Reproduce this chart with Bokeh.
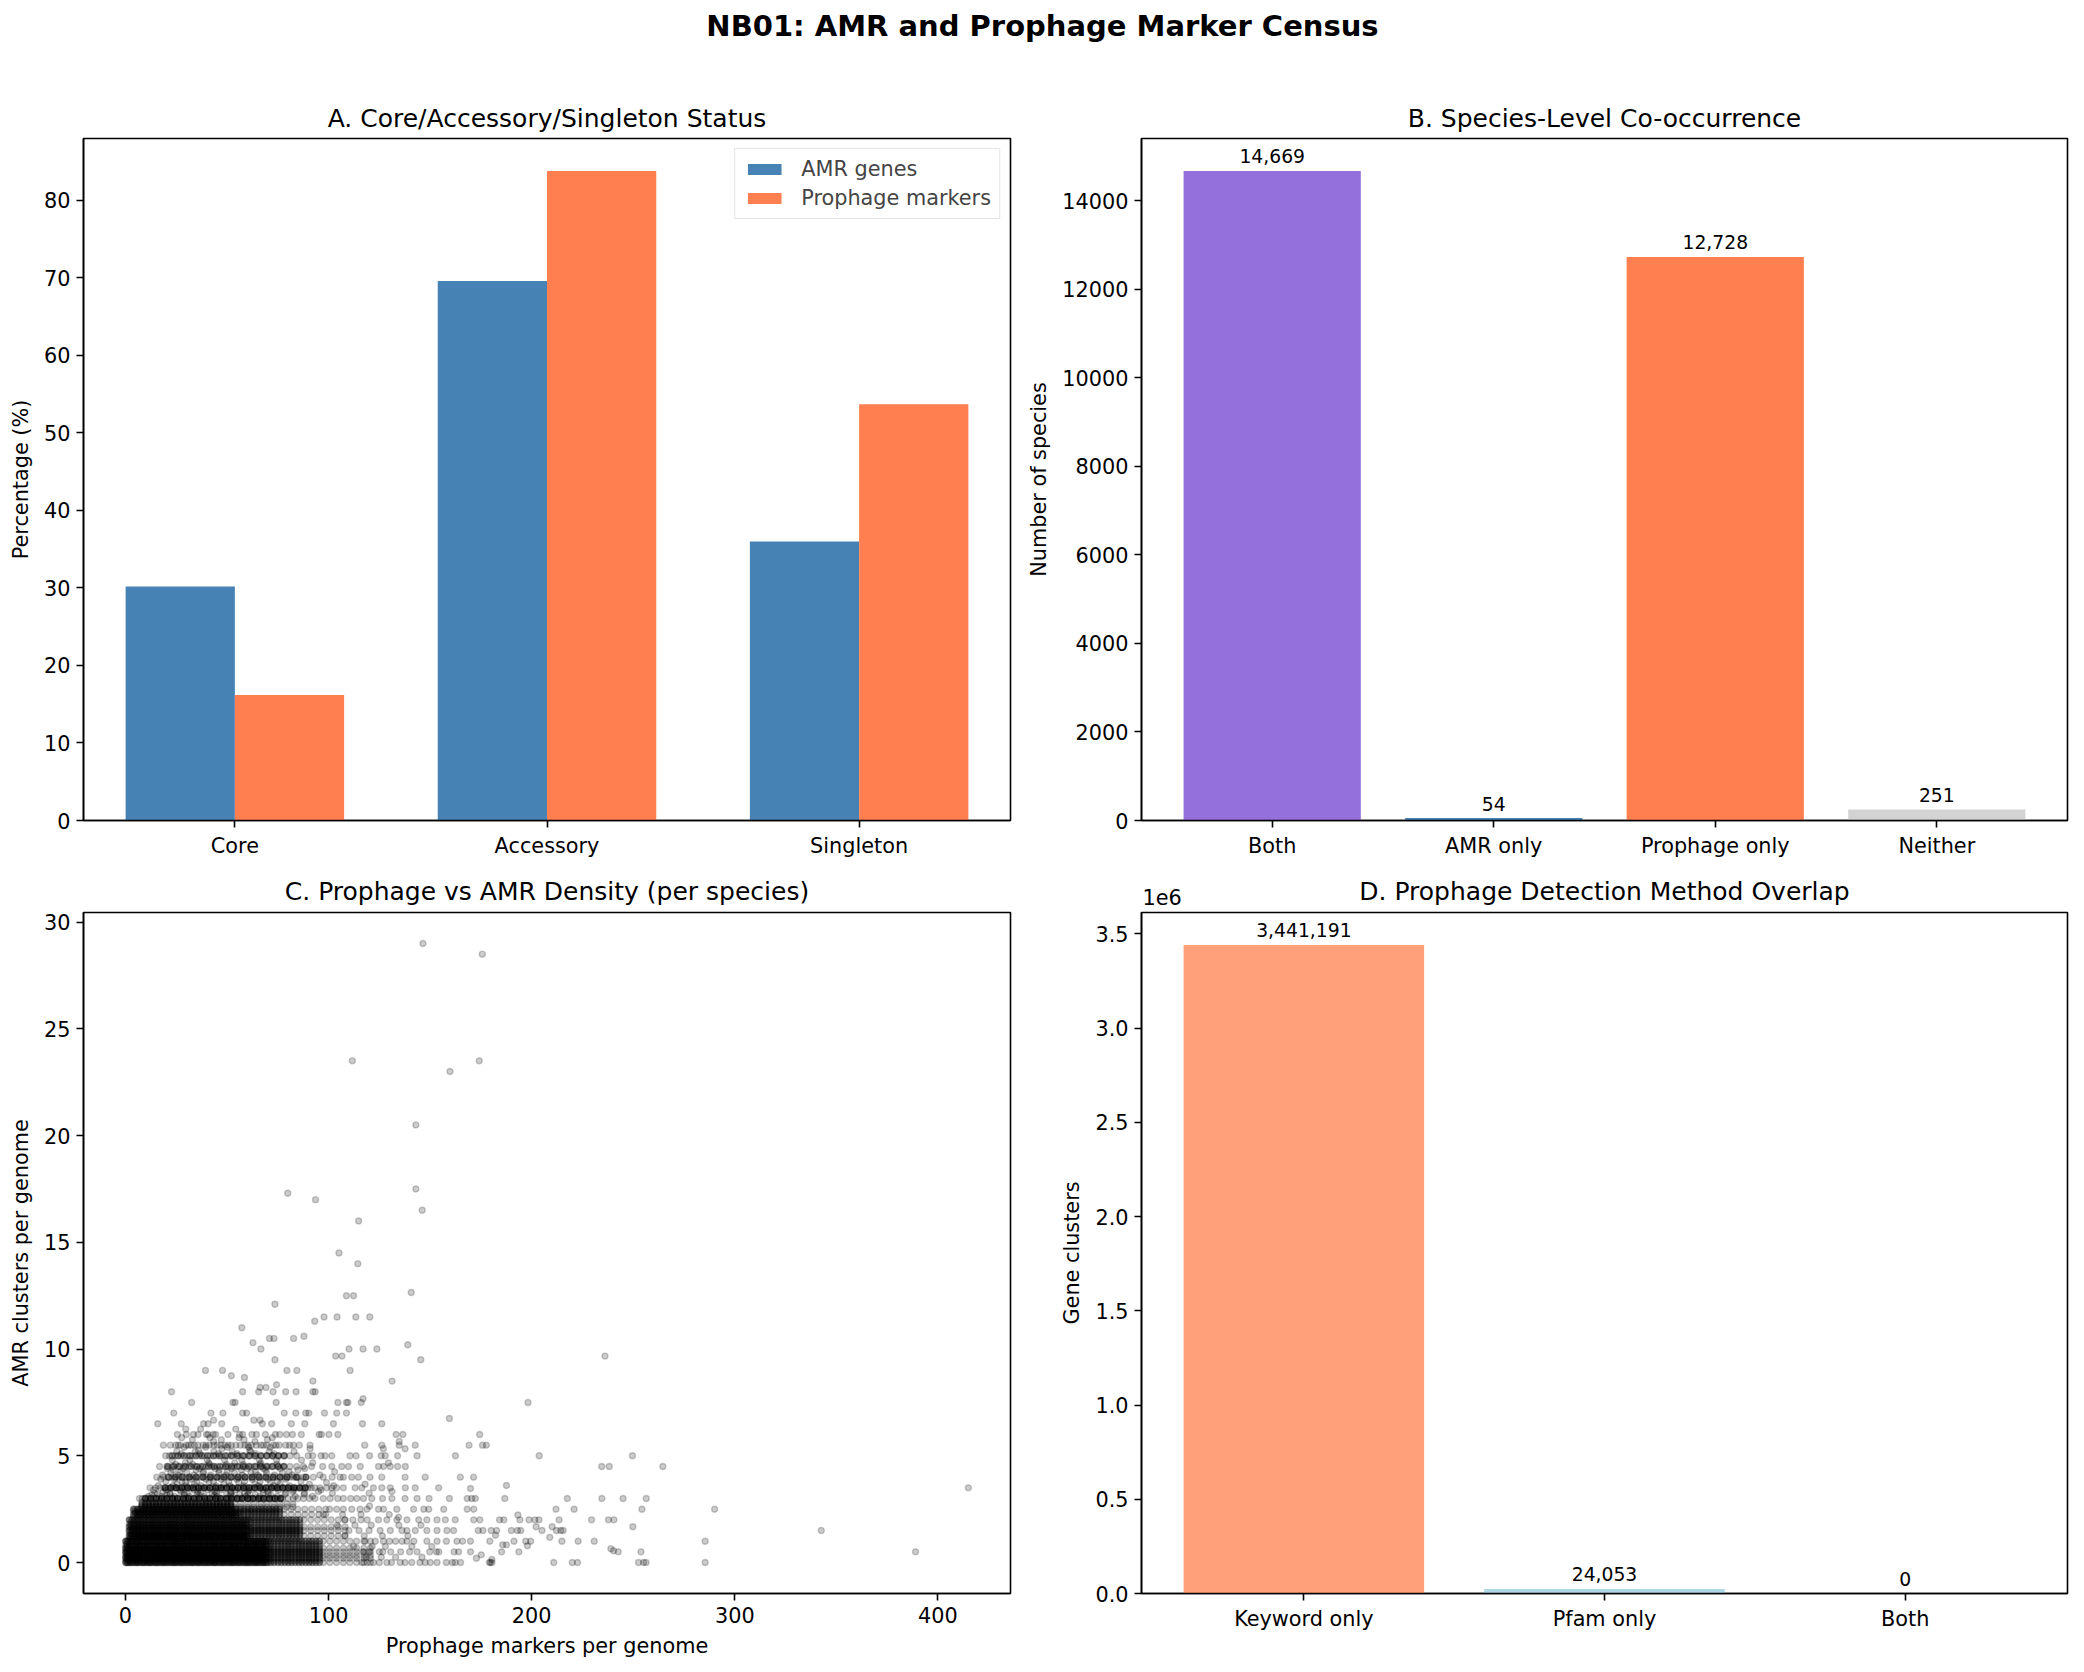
from bokeh.plotting import figure
from bokeh.layouts import column, row
from bokeh.models import Range1d, FixedTicker
from bokeh.embed import file_html
from bokeh.resources import INLINE
from bokeh.core.properties import value

FONT = "DejaVu Sans"

# ---------------- A. core / accessory / singleton status ----------------
status_categories = ["Core", "Accessory", "Singleton"]
amr_pct = [30.2, 69.6, 36.0]
prophage_pct = [16.2, 83.8, 53.7]

# ---------------- B. species-level co-occurrence ----------------
cooc_categories = ["Both", "AMR only", "Prophage only", "Neither"]
cooc_counts = [14669, 54, 12728, 251]
cooc_colors = ["#9370DB", "#4682B4", "#FF7F50", "#D3D3D3"]

# ---------------- D. prophage detection method overlap ----------------
method_categories = ["Keyword only", "Pfam only", "Both"]
method_counts = [3441191, 24053, 0]
method_colors = ["#FFA07A", "#ADD8E6", "#9370DB"]

# ---------------- C. per-species densities ----------------
# Species are grouped by their AMR-clusters-per-genome level; each row lists the
# prophage-markers-per-genome values found on that level and how many species
# share each listed value.
x_b1a = ("0.1 1.4 3.1 4.9 6.3 8.2 9.7 11.6 13 14.9 16.4 18.3 19.8 21.6 23.4 24.8 26.7 28.2 30 31.7 "
         "33.2 35.1 36.5 38.4 40 41.6 43.5 44.9 46.8 48.3 50.1 51.8 53.3 55.2 56.6 58.5 60.1 61.7 "
         "63.6 65 66.9 68.4 70.2")
x_b1b = ("0.7 2.2 3.9 5.6 7.2 8.9 10.7 12.2 14.1 15.6 17.4 19 20.7 22.5 24.1 25.7 27.5 29.1 30.8 32.6 "
         "34.1 35.9 37.5 39.2 40.9 42.6 44.1 45.9 47.6 49.2 50.9 52.6 54.2 55.9 57.7 59.3 60.9 62.7 "
         "64.3 65.9 67.7 69.3")
x_d1 = "71.6 73.2 75.1 76.7 78.5 80.2 81.8 83.6 85.3 86.9 88.7 90.4 92 93.8 95.5"
x_m1 = "97.4 100.6 103.9 107.3 110.5 113.8 117.4 120.6"
x_b2a = ("1.9 3.4 5.2 6.6 8.5 10.1 11.8 13.5 15.1 16.9 18.4 20.3 21.8 23.6 25.2 26.8 28.7 30.2 32 33.5 "
         "35.3 36.9 38.6 40.4 41.9 43.7 45.2 47 48.6 50.3 52.1 53.6 55.4 57 58.7 60.5")
x_b2b = ("2.6 4.3 6 7.6 9.3 11 12.7 14.3 16 17.7 19.4 21.1 22.7 24.4 26.1 27.8 29.5 31.1 32.8 34.5 "
         "36.2 37.9 39.5 41.2 42.9 44.6 46.3 47.9 49.6 51.3 53 54.7 56.3 58 59.7")
x_d2 = "61.9 63.6 65.4 67 68.8 70.5 72.1 73.9 75.6 77.2 79 80.7 82.3 84.1 85.8"
x_m2 = "87.9 91.2 94.6 97.9 101.3 104.8 108.1"
x_b3a = ("4 5.9 7.5 9.4 11 12.9 14.4 16.3 17.9 19.8 21.3 23.2 24.8 26.7 28.3 30.2 31.7 33.6 35.2 "
         "37.1 38.7 40.6 42.1 44 45.6 47.5 49.1 51 52.5 54.4")
x_b3b = ("4.8 6.7 8.4 10.2 11.9 13.7 15.4 17.1 18.9 20.6 22.4 24.1 25.8 27.6 29.3 31 32.8 34.5 36.3 "
         "38 39.7 41.5 43.2 45 46.7 48.4 50.2 51.9 53.7 55.4")
x_d3 = "56.8 58.5 60.3 62 63.7 65.5 67.2 68.9 70.7 72.4 74.1 75.9"
x_m3 = "78.2 81.6 84.9 88.3 91.7 95.2 98.6"
x_d4 = ("8.1 9.9 11.6 13.4 15.1 16.9 18.6 20.4 22.1 23.9 25.6 27.4 29.1 30.9 32.6 34.4 36.1 37.9 "
        "39.6 41.4 43.1 44.9 46.6 48.4 50.1 51.9")
x_m4 = "53.8 56.9 60.2 63.3 66.6 69.7 73 76.1 79.4 82.5"

core_amr = [
    0, 0, 0, 0.0, 0.1, 0.1, 0.14, 0.2, 0.2, 0.2, 0.25, 0.25,
    0.33, 0.33, 0.33, 0.4, 0.4, 0.45, 0.5, 0.5, 0.5, 0.5, 0.6, 0.6,
    0.67, 0.67, 0.67, 0.75, 0.75, 0.8, 0.88, 0.88, 1.0, 1.0, 1.0, 1.0,
    1.12, 1.12, 1.2, 1.25, 1.25, 1.25, 1.33, 1.33, 1.4, 1.4, 1.5, 1.5,
    1.5, 1.5, 1.6, 1.6, 1.67, 1.67, 1.67, 1.75, 1.75, 1.8, 1.88, 1.88,
    2.0, 2.0, 2.0, 2.0, 2.12, 2.12, 2.2, 2.25, 2.25, 2.25, 2.33, 2.33,
    2.4, 2.4, 2.5, 2.5, 2.5, 2.5, 2.6, 2.6, 2.67, 2.75, 2.75, 2.83,
]
core_prophage = [
    x_b1a, x_b1b, x_d1, x_m1, x_b1b, x_d1, x_b1a, x_b1b, x_d1, x_m1, x_b1a, x_d1,
    x_b1b, x_d1, x_m1, x_b1a, x_d1, x_b1b, x_b1a, x_b1b, x_d1, x_m1, x_b1b, x_d1,
    x_b1a, x_d1, x_m1, x_b1b, x_d1, x_b1a, x_b1b, x_d1, x_b1a, x_b1b, x_d1, x_m1,
    x_b2a, x_d2, x_b2b, x_b2a, x_d2, x_m2, x_b2b, x_d2, x_b2a, x_d2, x_b2a, x_b2b,
    x_d2, x_m2, x_b2b, x_d2, x_b2a, x_d2, x_m2, x_b2b, x_d2, x_b2a, x_b2b, x_d2,
    x_b2a, x_b2b, x_d2, x_m2, x_b3a, x_d3, x_b3b, x_b3a, x_d3, x_m3, x_b3b, x_d3,
    x_b3a, x_d3, x_b3a, x_b3b, x_d3, x_m3, x_d4, x_m4, x_d4, x_d4, x_m4, x_d4,
]
core_species = [
    2, 2, 2, 1, 1, 1, 1, 2, 1, 1, 2, 1,
    2, 1, 1, 1, 1, 1, 2, 1, 2, 1, 2, 1,
    2, 1, 1, 2, 1, 1, 1, 1, 2, 2, 2, 1,
    1, 1, 2, 2, 1, 1, 2, 1, 1, 1, 2, 1,
    2, 1, 1, 1, 2, 1, 1, 2, 1, 1, 1, 1,
    2, 1, 2, 1, 1, 1, 1, 2, 1, 1, 2, 1,
    1, 1, 2, 1, 2, 1, 1, 1, 2, 1, 1, 1,
]

spread_amr = [
    0.0, 0.14, 0.2, 0.25, 0.36, 0.5, 0.55, 0.65, 0.75, 0.79,
    0.83, 1.0, 1.18, 1.25, 1.28, 1.5, 1.68, 1.75, 2.0, 2.12,
    2.23, 2.25, 2.5, 2.65, 3.0, 3.0, 3.17, 3.25, 3.33, 3.47,
    3.5, 3.5, 3.61, 3.67, 3.75, 4.0, 4.0, 4.25, 4.33, 4.5,
    4.5, 4.67, 5.0, 5.0, 5.25, 5.33, 5.5, 5.5, 5.67, 6.0,
    6.25, 3.1, 3.2, 3.4, 3.6, 3.8, 3.9, 4.1, 4.2, 4.4,
    4.6, 4.8, 5.1, 5.2, 5.4, 5.75, 5.85,
]
spread_prophage = [
    "116.4 119 122.1 125 128.7 131 135.3 137.7 141 145 147.6 150.1 153.4 158 161 162.4 165 179.2 179.7 180.5 210.9 220 222.6 252.6 255.1 256.3 285.4",
    "180.4",
    "172.8",
    "118.5 126 133 146",
    "175.2",
    "117 120 125 126.7 130.6 135.5 139.9 143.6 149.8 153.1 154.3 161.8 164 169.9 185.2 193.7 242.6 253.8 389",
    "240.3",
    "239",
    "112.3 121.5 128 141 150.8",
    "197.9",
    "185.7 187.6",
    "118 123 127 130 133 136.2 138.6 142 148.4 153.4 158 163.2 166 169.9 179.4 191.3 197.1 199.5 214.9 222.9 230.8 285.4",
    "208.9",
    "108 117.6 126.5 139",
    "182.2",
    "110 115 120 125.4 130.4 136.2 138.6 142.7 148.4 153.4 158.3 161.6 173.7 176 180.1 182.8 190 193 194.6 205.1 212.2 214.3 215.5 342.6",
    "202.2 210.1 249.8",
    "104.2 113 121 134.6 145.5",
    "108 112 116 119 124.6 128.7 133.6 138.6 144.4 148.4 153.4 157.5 162.4 171.5 174.5 184.2 186.3 194.2 198.7 201.6 203.6 213.5 229.5 237.8 240.5",
    "134.5",
    "193.2",
    "97.5 106.9 116 129.9",
    "100.5 104 107.3 111.4 115.5 118.9 124.6 127.1 133.6 141.9 146.9 149.3 156.7 168.3 171.5 212 220.9 254.3 290.1",
    "120.2",
    "6.9 8.3 11.2 14 16.5 19.1 21.8 24.4 27 29.7 32.3 34.9 37.6 40.2 42.8 45.5 48.1 50.7 53.4 56 58.7 61.4 64 66.8 69.5 72.4 74.8 77.3 80.1 82.6 84.9 87.7 90.6 93.3 97.4 100.8 104.5 107.3 110.9 114 117.2 121.3 126.6 131.2 137.7 143.6 149.5 159.5 168.3 170.5 172.3 186.8 217.6 234.6 245 256.4",
    "9.8 12.5 15.1 17.9 20.4 23.2 25.7 28.5 31 33.8 36.3 39.1 41.6 44.4 46.9 49.7 52.2 55 57.5 60.3 62.8 65.6 68.1 70.9 73.6 76.4",
    "12.9 20.4 28.8 36.3 43.9 51.7 60.3 71.5",
    "14.5 22 30.5 37 44.8 52 58.6 67.9 79 88.2 101.9 120",
    "18.6 27.4 35.6 44 51.9 60.4 70 82.3 95 131.2",
    "169.9",
    "12.1 14.8 17.2 21 23.9 26.5 29.3 32 34.8 37.4 40.1 43 45.7 48.4 51.2 53.9 56.7 59.4 62.2 65 67.7 70.5 73.3 76 78.8 81.6 84.3 87.1 89.9 91.5 93.3 95.8 99.1 101.5 104 107.3 113.1 116.4 122.1 126.2 130.4 137.8 142.7 154.2 415",
    "19.5 22.3 25 27.8 30.6 33.3 36.1 38.8 41.6 44.4 47.1 49.9 52.6 55.4 58.2 60.9 63.7 66.4 69.2 72 74.7 77.5 80.2 83 85.8 88.5",
    "187.6",
    "25.3 33.9 48.4 63.7 76.2 90.6 118",
    "29.6 41.2 55.8 71.4 99",
    "15.4 18.7 22.9 26.3 29.8 33.2 36.6 40.1 43.5 46.9 50.4 53.8 57.2 60.7 64.1 67.5 71 74.4 77.8 81 82.7 85.1 87.6 92.5 97.4 101.8 105.7 107.3 111.4 114.7 120.4 126.2 137.7 147.6 164.9 171.4",
    "21.2 24.6 28 31.5 34.9 38.3 41.8 45.2 48.6 52.1 55.5 58.9 62.4 65.8 69.2 72.7 76.1 79.5 84.2 88.9",
    "27 38.5 50.1 64 80.6 103",
    "23.6 34.8 46.2 57.1 69 84.9",
    "16.8 20.4 23.1 25.9 28.8 31.4 34.2 36.9 39.7 42.5 45.1 48 50.6 53.5 56.2 58.9 61.7 64.4 67.2 70 72.7 75.4 78.2 81 84.3 87.6 91.7 97.1 101.6 106.5 109.8 115.6 124.6 127.1 130.4 134 137.8 234.5 238.2 264.6",
    "20.9 23.8 26.6 29.5 32.3 35.2 38 40.9 43.7 46.6 49.4 52.3 55.1 58 60.8 63.7 66.5 69.4 72.2 75.1 77.9",
    "29.5 41 53.8 66.6 92.2 129.5",
    "19.8 21.7 24.5 27.4 30.6 33.1 36.2 38.9 41.8 44.6 47.3 50.2 52.9 55.7 58.6 61.3 64.2 67 69.8 72.5 75.4 78.1 81 84.3 90 92.2 96.3 98.3 101.6 110.6 113.6 120.2 125.9 127.9 134 143.6 162.5 203.7 249.6",
    "23 25.9 28.9 31.8 34.7 37.6 40.5 43.4 46.3 49.2 52.1 55 57.9 60.8 63.7 66.6 69.5 72.4 75.3 78.2",
    "36 61.2",
    "47.5 90.9 127 137.7",
    "18.7 24.7 27.1 29.9 32.4 35.7 39.7 41.3 43.5 47 48.9 52.2 56.6 58.8 62 64.5 66.7 69.6 72.8 75.7 78.9 82.7 85.6 90.9 117.8 126.2 134.8 142.7 169.2 175.8 177.7",
    "22.1 26 31 34 38.2 45.2 50.6 54.4 60.3 67.9 74.1 80.8",
    "43.4 63.8 134.8",
    "25.6 30 33.5 35.7 39.9 40.7 43.2 44.4 50.5 56.2 57.7 62.3 64.5 68.9 73.8 76 79.3 82.2 86.6 95.4 96.5 100.2 104.6 133.3 136.6 174.4",
    "29.7 37 54.3",
    "11.4 17.8 24.2 31.5 38.9 45.2 52.8 59.3 66.1 74.8 83.6 92.1",
    "15.7 21.9 29.1 35.4 42.7 49.8 56.2 63.9 70.4 78.5 87.9",
    "13.8 20.1 26.9 33.7 40.4 47.3 54.1 61 67.8 75.2 82.9 96.3",
    "16.2 23.4 30.1 37.3 44.6 51.5 58.3 65.6 72.9 80.7 102.5",
    "19.9 27.8 35.1 43.3 50.9 58.7 66.3 74.8 86.4",
    "17.4 24.1 31.9 39.6 47.2 54.9 62.5 70.2 78.9",
    "18.3 26.1 33.8 41.9 49.5 57.6 65.2 73.4 82.1 95.7",
    "22.4 30.3 38.1 46 53.7 61.9 69.5 77.3",
    "20.6 28.4 36.5 44.1 52.3 60.1 68 76.2 88.3",
    "24.8 33.1 41.4 49.7 58 66.3 74.6",
    "23.1 31.7 40.2 48.8 57.3 65.9 74.4 86.7",
    "27.6 36.7 45.8 54.9 64 73.1",
    "25.3 34.4 43.5 52.6 61.7 70.8 83",
    "28.9 39.5 50.1 60.7 71.3",
    "33 47.2 58.4 69.9",
    "27.7 41.6 55.9 72.3",
]
spread_species = [
    1, 1, 1, 1, 1, 1, 1, 1, 1, 1,
    1, 1, 1, 1, 1, 1, 1, 1, 1, 1,
    1, 1, 1, 1, 1, 4, 1, 1, 1, 1,
    1, 4, 1, 1, 1, 1, 3, 1, 1, 1,
    2, 1, 1, 2, 1, 1, 1, 1, 1, 1,
    1, 1, 1, 1, 1, 1, 1, 1, 1, 1,
    1, 1, 1, 1, 1, 1, 1,
]

outlier_amr = [
    6.5, 6.67, 6.75, 7.0, 7.5, 7.67, 8.0, 8.2, 8.33, 8.5,
    8.67, 8.75, 9.0, 9.5, 9.67, 10.0, 10.2, 10.3, 10.5, 10.6,
    11.0, 11.3, 11.5, 12.1, 12.5, 12.65, 14.0, 14.5, 16.0, 16.5,
    17.0, 17.3, 17.5, 20.5, 23.0, 23.5, 28.5, 29.0,
]
outlier_prophage = [
    "15.9 27.5 38.5 40.7 47.4 67.4 72 81.7 88.3 102.4 116.7 126.2",
    "43.4 63.2 66.3",
    "159.5",
    "23.8 42.1 48 57.7 59.7 78.2 83.9 88.8 90.3 98 104 108.8",
    "32.6 52.9 54 74.2 104.6 108.8 109.5 116.1 198.2",
    "117",
    "22.7 57.7 65.6 72.7 78.9 84 92.3 93.4",
    "66.3 69.2",
    "74.4",
    "92.3 131.3",
    "58.6",
    "52.2",
    "39.4 47.8 79.5 84.4 110.6",
    "73.6 145.4",
    "103.5 106.6 236.1",
    "66.7 110.1 117 123.8",
    "139",
    "62.8",
    "70.9 73.1 82.8",
    "87.9",
    "57.3",
    "93.2",
    "97.8 104.2 113.4 120.3",
    "73.6",
    "108.8 112.3",
    "140.7",
    "114.4",
    "105.1",
    "114.8",
    "146.1",
    "93.6",
    "79.9",
    "143",
    "143",
    "159.8",
    "111.7 174.2",
    "175.7",
    "146.5",
]


def expand(levels, rows, counts=None):
    xs, ys = [], []
    for i, (level, row_text) in enumerate(zip(levels, rows)):
        n = 1 if counts is None else counts[i]
        for token in row_text.split():
            xs.extend([float(token)] * n)
            ys.extend([level] * n)
    return xs, ys


sx, sy = [], []
for part in (expand(core_amr, core_prophage, core_species),
             expand(spread_amr, spread_prophage, spread_species),
             expand(outlier_amr, outlier_prophage)):
    sx += part[0]
    sy += part[1]


def padded(lo, hi, frac=0.05):
    pad = (hi - lo) * frac
    return Range1d(lo - pad, hi + pad)


def style(p):
    p.grid.visible = False
    p.outline_line_color = "black"
    p.outline_line_width = 1.6
    p.background_fill_color = "white"
    p.border_fill_color = "white"
    for ax in p.axis:
        ax.axis_line_color = "black"
        ax.axis_line_width = 1.6
        ax.major_tick_line_color = "black"
        ax.major_tick_line_width = 1.6
        ax.major_tick_out = 7
        ax.major_tick_in = 0
        ax.minor_tick_line_color = None
        ax.major_label_text_font = FONT
        ax.major_label_text_font_size = "20.8px"
        ax.major_label_text_color = "black"
        ax.major_label_standoff = 6
        ax.axis_label_text_font = FONT
        ax.axis_label_text_font_size = "20.8px"
        ax.axis_label_text_font_style = "normal"
        ax.axis_label_text_color = "black"
        ax.axis_label_standoff = 8


def category_axis(p, labels):
    p.xaxis.ticker = FixedTicker(ticks=list(range(len(labels))))
    p.xaxis.major_label_overrides = {i: lab for i, lab in enumerate(labels)}


def bar_labels(p, counts):
    p.text(x=list(range(len(counts))), y=counts, text=[f"{c:,}" for c in counts],
           text_align="center", text_baseline="bottom", y_offset=-7.5,
           text_font=value(FONT), text_font_size="18.75px", text_color="black")


def text_strip(height):
    s = figure(width=2084, height=height, x_range=Range1d(0, 2084), y_range=Range1d(0, height),
               x_axis_type=None, y_axis_type=None, toolbar_location=None,
               output_backend="svg", min_border=0)
    s.outline_line_color = None
    s.background_fill_color = "white"
    s.border_fill_color = "white"
    return s


def heading(s, x, y, text, size="25px", style_="normal", align="center"):
    s.text(x=[x], y=[y], text=[text], text_align=align, text_baseline="middle",
           text_font=value(FONT), text_font_size=size, text_font_style=style_,
           text_color="black")


# ---------------- figure title and the headings of the top panels ----------------
top = text_strip(134)
heading(top, 1042, 108.5, "NB01: AMR and Prophage Marker Census", size="29px", style_="bold")
heading(top, 546.5, 16.2, "A. Core/Accessory/Singleton Status")
heading(top, 1604, 16.2, "B. Species-Level Co-occurrence")

# ---------------- panel A ----------------
pa = figure(width=1020, height=736,
            x_range=Range1d(-0.485, 2.485), y_range=padded(0, max(amr_pct + prophage_pct)),
            toolbar_location=None, output_backend="svg",
            min_border_left=83, min_border_right=10, min_border_top=4, min_border_bottom=50)
pa.y_range.start = 0
idx = list(range(len(status_categories)))
pa.vbar(x=[i - 0.175 for i in idx], top=amr_pct, width=0.35, fill_color="#4682B4",
        line_color=None, legend_label="AMR genes")
pa.vbar(x=[i + 0.175 for i in idx], top=prophage_pct, width=0.35, fill_color="#FF7F50",
        line_color=None, legend_label="Prophage markers")
style(pa)
category_axis(pa, status_categories)
pa.yaxis.ticker = FixedTicker(ticks=list(range(0, 81, 10)))
pa.yaxis.axis_label = "Percentage (%)"
leg = pa.legend[0]
leg.location = "top_right"
leg.margin = 10
leg.padding = 8
leg.spacing = 5
leg.glyph_width = 42
leg.glyph_height = 14
leg.label_height = 21
leg.label_standoff = 16
leg.label_text_font = FONT
leg.label_text_font_size = "20.8px"
leg.border_line_color = "#cccccc"
leg.border_line_width = 1.5
leg.background_fill_alpha = 0.8

# ---------------- panel B ----------------
pb = figure(width=1064, height=736,
            x_range=Range1d(-0.59, 3.59), y_range=padded(0, max(cooc_counts)),
            toolbar_location=None, output_backend="svg",
            min_border_left=121, min_border_right=17, min_border_top=4, min_border_bottom=50)
pb.y_range.start = 0
pb.vbar(x=list(range(len(cooc_counts))), top=cooc_counts, width=0.8,
        fill_color=cooc_colors, line_color=None)
bar_labels(pb, cooc_counts)
style(pb)
category_axis(pb, cooc_categories)
pb.yaxis.ticker = FixedTicker(ticks=list(range(0, 14001, 2000)))
pb.yaxis.axis_label = "Number of species"

# ---------------- headings of the bottom panels ----------------
mid = text_strip(40)
heading(mid, 546.5, 19.2, "C. Prophage vs AMR Density (per species)")
heading(mid, 1604, 19.2, "D. Prophage Detection Method Overlap")
heading(mid, 1142, 14, "1e6", size="20.8px", align="left")

# ---------------- panel C ----------------
pc = figure(width=1020, height=762,
            x_range=padded(min(sx), max(sx)), y_range=padded(min(sy), max(sy)),
            toolbar_location=None, output_backend="svg",
            min_border_left=83, min_border_right=10, min_border_top=2, min_border_bottom=79)
pc.scatter(x=sx, y=sy, marker="circle", size=6, fill_color="black", fill_alpha=0.2,
           line_color="black", line_alpha=0.2, line_width=1.4)
style(pc)
pc.xaxis.ticker = FixedTicker(ticks=[0, 100, 200, 300, 400])
pc.yaxis.ticker = FixedTicker(ticks=[0, 5, 10, 15, 20, 25, 30])
pc.xaxis.axis_label = "Prophage markers per genome"
pc.yaxis.axis_label = "AMR clusters per genome"

# ---------------- panel D ----------------
pd_ = figure(width=1064, height=762,
             x_range=Range1d(-0.54, 2.54), y_range=padded(0, max(method_counts)),
             toolbar_location=None, output_backend="svg",
             min_border_left=121, min_border_right=17, min_border_top=2, min_border_bottom=79)
pd_.y_range.start = 0
pd_.vbar(x=list(range(len(method_counts))), top=method_counts, width=0.8,
         fill_color=method_colors, line_color=None)
bar_labels(pd_, method_counts)
style(pd_)
category_axis(pd_, method_categories)
d_ticks = [i * 500000 for i in range(8)]
pd_.yaxis.ticker = FixedTicker(ticks=d_ticks)
pd_.yaxis.major_label_overrides = {t: f"{t / 1e6:.1f}" for t in d_ticks}
pd_.yaxis.axis_label = "Gene clusters"

layout = column(top, row(pa, pb), mid, row(pc, pd_))
open("out.html", "w").write(file_html(layout, INLINE))
